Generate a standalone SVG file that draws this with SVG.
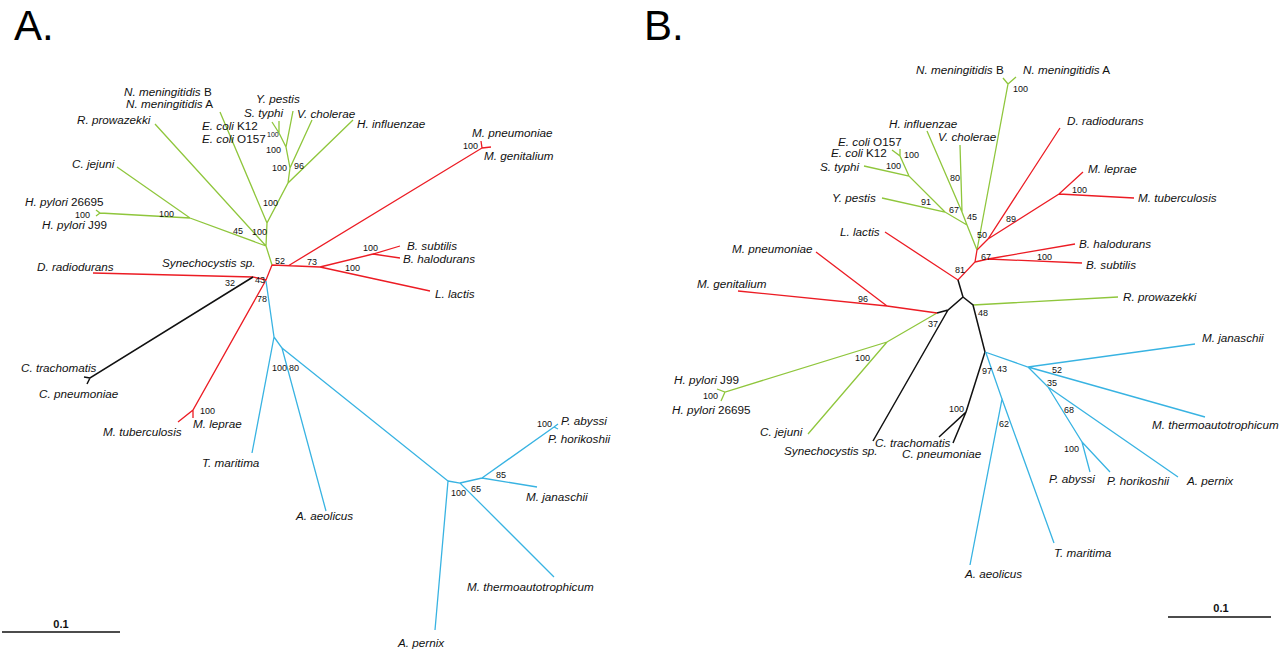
<svg xmlns="http://www.w3.org/2000/svg" width="1280" height="652" viewBox="0 0 1280 652">
<style>
.g{stroke:#8fc63c;fill:none;stroke-width:1.3}
.r{stroke:#ec1c24;fill:none;stroke-width:1.3}
.b{stroke:#38b3e2;fill:none;stroke-width:1.3}
.k{stroke:#111;fill:none;stroke-width:1.5}
.t{font-family:"Liberation Sans",Arial,sans-serif;font-style:italic;font-size:11.7px;fill:#111}
.n{font-style:normal}
.bs{font-family:"Liberation Sans",Arial,sans-serif;font-size:9px;fill:#111}
.ttl{font-family:"Liberation Sans",Arial,sans-serif;font-size:42px;fill:#000}
.sc{font-family:"Liberation Sans",Arial,sans-serif;font-size:11px;font-weight:bold;fill:#111}
</style>
<rect width="1280" height="652" fill="#fff"/>
<text class="ttl" x="14" y="40">A.</text>
<text class="ttl" x="644" y="40">B.</text>

<g id="connectors-A">
<path class="g" d="M272,265 L266,246 L267,223 L288,183 L353,120 M288,183 L290,168 L312,120 M290,168 L286,147 L293,111 M286,147 L279,133 L272,122 M279,133 L279,121 M267,223 L220,112 M266,246 L155,124 M266,246 L190,218 L117,167 M190,218 L100,213 L96,210 M100,213 L96,216"/>
<path class="r" d="M272,265 L320,267 M288,266 L482,148 L481,141 M482,148 L491,147 M320,267 L373,254 L400,246 M373,254 L400,258 M320,267 L430,291 M272,265 L266,280 L253,277 L93,273 M266,280 L193,410 L178,422 M193,410 L193,418"/>
<path class="k" d="M253,277 L90,378 L84,377 M90,378 L87,384"/>
<path class="b" d="M266,281 L274,337 L252,453 M274,337 L282,348 L326,511 M282,348 L448,481 L435,630 M448,481 L460,483 L554,577 M460,483 L482,478 L537,487 M482,478 L554,427 L558,424 M554,427 L558,429"/>
</g>

<g id="bootstrap-A" class="bs">
<text x="75" y="218">100</text><text x="159" y="217">100</text>
<text x="233" y="234">45</text><text x="252" y="235">100</text>
<text x="263" y="206">100</text><text x="272" y="171">100</text>
<text x="294" y="169">96</text><text x="266" y="153">100</text>
<text x="267" y="137" style="font-size:7px">100</text>
<text x="275" y="264">52</text><text x="307" y="265">73</text>
<text x="363" y="251">100</text><text x="345" y="271">100</text>
<text x="463" y="149">100</text>
<text x="225" y="286">32</text><text x="255" y="283">43</text><text x="257" y="302">78</text>
<text x="200" y="414">100</text>
<text x="272" y="371">100</text><text x="289" y="371">80</text>
<text x="451" y="496">100</text><text x="471" y="492">65</text>
<text x="496" y="478">85</text><text x="537" y="427">100</text>
</g>

<g id="A-nmenB"><text class="t" x="124" y="96">N. meningitidis<tspan class="n"> B</tspan></text></g>
<g id="A-nmenA"><text class="t" x="126" y="108">N. meningitidis<tspan class="n"> A</tspan></text></g>
<g id="A-ypestis"><text class="t" x="256" y="103">Y. pestis</text></g>
<g id="A-styphi"><text class="t" x="244" y="117">S. typhi</text></g>
<g id="A-vchol"><text class="t" x="297" y="118">V. cholerae</text></g>
<g id="A-hinfl"><text class="t" x="357" y="128">H. influenzae</text></g>
<g id="A-ecoliK12"><text class="t" x="202" y="130">E. coli<tspan class="n"> K12</tspan></text></g>
<g id="A-ecoliO157"><text class="t" x="202" y="143">E. coli<tspan class="n"> O157</tspan></text></g>
<g id="A-rprow"><text class="t" x="77" y="124">R. prowazekki</text></g>
<g id="A-cjej"><text class="t" x="72" y="168">C. jejuni</text></g>
<g id="A-hp26695"><text class="t" x="25" y="206">H. pylori<tspan class="n"> 26695</tspan></text></g>
<g id="A-hpJ99"><text class="t" x="42" y="229">H. pylori<tspan class="n"> J99</tspan></text></g>
<g id="A-drad"><text class="t" x="37" y="271">D. radiodurans</text></g>
<g id="A-syn"><text class="t" x="162" y="267">Synechocystis sp.</text></g>
<g id="A-mpneu"><text class="t" x="472" y="137">M. pneumoniae</text></g>
<g id="A-mgen"><text class="t" x="484" y="160">M. genitalium</text></g>
<g id="A-bsub"><text class="t" x="407" y="250">B. subtilis</text></g>
<g id="A-bhal"><text class="t" x="403" y="263">B. halodurans</text></g>
<g id="A-llac"><text class="t" x="435" y="298">L. lactis</text></g>
<g id="A-ctrach"><text class="t" x="21" y="372">C. trachomatis</text></g>
<g id="A-cpneu"><text class="t" x="39" y="398">C. pneumoniae</text></g>
<g id="A-mtb"><text class="t" x="103" y="436">M. tuberculosis</text></g>
<g id="A-mlep"><text class="t" x="193" y="428">M. leprae</text></g>
<g id="A-tmar"><text class="t" x="202" y="467">T. maritima</text></g>
<g id="A-aaeo"><text class="t" x="296" y="520">A. aeolicus</text></g>
<g id="A-paby"><text class="t" x="561" y="425">P. abyssi</text></g>
<g id="A-phor"><text class="t" x="548" y="443">P. horikoshii</text></g>
<g id="A-mjan"><text class="t" x="526" y="501">M. janaschii</text></g>
<g id="A-mthe"><text class="t" x="467" y="591">M. thermoautotrophicum</text></g>
<g id="A-aper"><text class="t" x="398" y="647">A. pernix</text></g>
<g id="A-scale"><line x1="2" y1="632" x2="120" y2="632" stroke="#111" stroke-width="1.5"/><text class="sc" x="61" y="628" text-anchor="middle">0.1</text></g>

<g id="connectors-B">
<path class="g" d="M977,250 L967,225 L962,212 L927,131 M962,212 L960,145 M967,225 L945,212 L882,198 M945,212 L909,176 L864,166 M909,176 L900,156 L892,150 M900,156 L900,149 M977,250 L1008,84 L1003,78 M1008,84 L1016,77 M937,313 L887,342 L725,392 L717,389 M725,392 L721,401 M887,342 L808,434 M973,305 L1118,297"/>
<path class="r" d="M977,250 L975,262 L958,280 L885,232 M977,250 L988,239 L1060,128 M988,239 L1059,194 L1083,172 M1059,194 L1134,198 M975,262 L988,259 L1075,244 M988,259 L1082,263 M937,313 L887,306 L738,291 M887,306 L816,252"/>
<path class="k" d="M958,280 L963,297 L948,310 L937,313 M948,310 L873,441 M963,297 L973,305 L985,352 L966,412 L939,437 M966,412 L953,443"/>
<path class="b" d="M985,352 L1028,367 L1195,344 M1028,367 L1205,417 M1028,367 L1048,387 L1178,477 M1048,387 L1082,442 L1090,472 M1082,442 L1110,472 M986,353 L1002,399 L970,565 M1002,399 L1054,543"/>
</g>

<g id="bootstrap-B" class="bs">
<text x="1013" y="92">100</text><text x="904" y="158">100</text><text x="886" y="169">100</text>
<text x="950" y="181">80</text><text x="921" y="205">91</text><text x="949" y="213">67</text>
<text x="967" y="220">45</text><text x="977" y="238">50</text><text x="1006" y="222">89</text>
<text x="1072" y="193">100</text><text x="981" y="260">67</text><text x="1037" y="260">100</text>
<text x="955" y="273">81</text><text x="858" y="302">96</text><text x="928" y="327">37</text>
<text x="855" y="361">100</text><text x="703" y="399">100</text><text x="978" y="316">48</text>
<text x="982" y="374">97</text><text x="997" y="372">43</text><text x="949" y="412">100</text>
<text x="1052" y="373">52</text><text x="1047" y="386">35</text><text x="1064" y="413">68</text>
<text x="1064" y="452">100</text><text x="999" y="427">62</text>
</g>

<g id="B-nmenB"><text class="t" x="916" y="74">N. meningitidis<tspan class="n"> B</tspan></text></g>
<g id="B-nmenA"><text class="t" x="1023" y="74">N. meningitidis<tspan class="n"> A</tspan></text></g>
<g id="B-hinfl"><text class="t" x="889" y="128">H. influenzae</text></g>
<g id="B-vchol"><text class="t" x="938" y="141">V. cholerae</text></g>
<g id="B-ecoliO157"><text class="t" x="838" y="146">E. coli<tspan class="n"> O157</tspan></text></g>
<g id="B-ecoliK12"><text class="t" x="831" y="157">E. coli<tspan class="n"> K12</tspan></text></g>
<g id="B-styphi"><text class="t" x="820" y="171">S. typhi</text></g>
<g id="B-ypestis"><text class="t" x="832" y="202">Y. pestis</text></g>
<g id="B-llac"><text class="t" x="840" y="236">L. lactis</text></g>
<g id="B-mpneu"><text class="t" x="732" y="253">M. pneumoniae</text></g>
<g id="B-mgen"><text class="t" x="697" y="288">M. genitalium</text></g>
<g id="B-drad"><text class="t" x="1067" y="125">D. radiodurans</text></g>
<g id="B-mlep"><text class="t" x="1088" y="173">M. leprae</text></g>
<g id="B-mtb"><text class="t" x="1138" y="202">M. tuberculosis</text></g>
<g id="B-bhal"><text class="t" x="1079" y="248">B. halodurans</text></g>
<g id="B-bsub"><text class="t" x="1086" y="269">B. subtilis</text></g>
<g id="B-rprow"><text class="t" x="1123" y="301">R. prowazekki</text></g>
<g id="B-mjan"><text class="t" x="1202" y="342">M. janaschii</text></g>
<g id="B-mthe"><text class="t" x="1152" y="429">M. thermoautotrophicum</text></g>
<g id="B-hpJ99"><text class="t" x="674" y="384">H. pylori<tspan class="n"> J99</tspan></text></g>
<g id="B-hp26695"><text class="t" x="672" y="414">H. pylori<tspan class="n"> 26695</tspan></text></g>
<g id="B-cjej"><text class="t" x="760" y="436">C. jejuni</text></g>
<g id="B-syn"><text class="t" x="784" y="455">Synechocystis sp.</text></g>
<g id="B-ctrach"><text class="t" x="875" y="447">C. trachomatis</text></g>
<g id="B-cpneu"><text class="t" x="902" y="458">C. pneumoniae</text></g>
<g id="B-paby"><text class="t" x="1049" y="483">P. abyssi</text></g>
<g id="B-phor"><text class="t" x="1107" y="485">P. horikoshii</text></g>
<g id="B-aper"><text class="t" x="1187" y="485">A. pernix</text></g>
<g id="B-tmar"><text class="t" x="1054" y="557">T. maritima</text></g>
<g id="B-aaeo"><text class="t" x="965" y="578">A. aeolicus</text></g>
<g id="B-scale"><line x1="1168" y1="617" x2="1271" y2="617" stroke="#111" stroke-width="1.5"/><text class="sc" x="1221" y="612" text-anchor="middle">0.1</text></g>
</svg>
